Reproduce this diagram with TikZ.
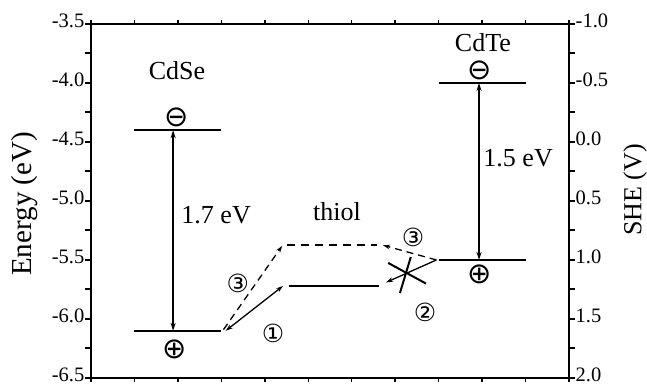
\documentclass[tikz,border=0pt]{standalone}
\usepackage{fontspec}
\setmainfont{Liberation Serif}
\newfontfamily\simboli{DejaVu Sans}
\usetikzlibrary{arrows.meta}

\begin{document}
\begin{tikzpicture}[x=43.45pt, y=118pt, line join=miter,
    testo/.style={font=\fontsize{26}{26}\selectfont, inner sep=0pt},
    etich/.style={font=\fontsize{20.5}{20.5}\selectfont, inner sep=0pt},
    carica/.style={font=\simboli\fontsize{29}{29}\selectfont, inner sep=0pt},
    numero/.style={font=\simboli\fontsize{25}{25}\selectfont, inner sep=0pt},
    livello/.style={line width=2pt},
    gap/.style={line width=2pt, {Stealth[length=8pt,width=5pt]}-{Stealth[length=8pt,width=5pt]}},
    salto/.style={line width=1.3pt, -{Stealth[length=7pt,width=4.5pt]}},
    trattino/.style={dash pattern=on 8pt off 6pt}]
        \useasboundingbox (-2.094,-3.297) rectangle (12.796,-6.559);
        % Cornice
        \draw[line width=2pt] (0,-3.5) rectangle (11,-6.5);
        % Tacche sopra e sotto
        \foreach \i in {0,...,11} {
            \draw[line width=1.5pt] (\i,-3.5) -- ++(0pt,4pt);
            \draw[line width=1.5pt] (\i,-6.5) -- ++(0pt,-4pt);
        }
        % Tacche a sinistra e a destra
        \foreach \e in {-3.5,-3.75,...,-6.5} {
            \draw[line width=2pt] (0,\e) -- ++(-6pt,0pt);
            \draw[line width=2pt] (11,\e) -- ++(6pt,0pt);
        }
        % Scala in energia
        \foreach \e [count=\k] in {-3.5,-4.0,-4.5,-5.0,-5.5,-6.0,-6.5}
            \node[etich, anchor=east] (en\k) at (-0.15,\e+0.03) {\e};
        % Scala SHE
        \foreach \e/\v [count=\k] in {-3.5/-1.0,-4.0/-0.5,-4.5/0.0,-5.0/0.5,-5.5/1.0,-6.0/1.5,-6.5/2.0}
            \node[etich, anchor=west] (she\k) at (11.15,\e+0.03) {\v};
        \node[font=\fontsize{29}{29}\selectfont, inner sep=0pt, rotate=90] (asseE) at (-1.52,-5.025) {Energy (eV)};
        \node[font=\fontsize{26}{26}\selectfont, inner sep=0pt, rotate=90] (asseV) at (12.52,-4.907) {SHE (V)};

        % Livelli CdSe
        \coordinate (seC1) at (1,-4.4);  \coordinate (seC2) at (3,-4.4);
        \coordinate (seV1) at (1,-6.1);  \coordinate (seV2) at (3,-6.1);
        \draw[livello] (seC1) -- (seC2);
        \draw[livello] (seV1) -- (seV2);
        \coordinate (seA) at (1.89,-4.4); \coordinate (seB) at (1.89,-6.1);
        \draw[gap] (seA) -- (seB);
        \node[testo] (cdse) at (1.98,-3.898) {CdSe};
        \node[testo] (gap1) at (2.88,-5.119) {1.7 eV};
        \node[carica] (seMeno) at (1.96,-4.29) {⊖};
        \node[carica] (sePiu) at (1.93,-6.26) {⊕};

        % Livelli CdTe
        \coordinate (teC1) at (8,-4.0);  \coordinate (teC2) at (10,-4.0);
        \coordinate (teV1) at (8,-5.5);  \coordinate (teV2) at (10,-5.5);
        \draw[livello] (teC1) -- (teC2);
        \draw[livello] (teV1) -- (teV2);
        \coordinate (teA) at (8.93,-4.0); \coordinate (teB) at (8.93,-5.5);
        \draw[gap] (teA) -- (teB);
        \node[testo] (cdte) at (9.02,-3.66) {CdTe};
        \node[testo] (gap2) at (9.83,-4.636) {1.5 eV};
        \node[carica] (teMeno) at (8.95,-3.89) {⊖};
        \node[carica] (tePiu) at (8.95,-5.62) {⊕};

        % Livelli tiolo
        \coordinate (tiS1) at (4.56,-5.72); \coordinate (tiS2) at (6.63,-5.72);
        \coordinate (tiT1) at (4.51,-5.37); \coordinate (tiT2) at (6.58,-5.37);
        \draw[livello] (tiS1) -- (tiS2);
        \draw[livello, trattino] (tiT1) -- (tiT2);
        \node[testo] (thiol) at (5.66,-5.093) {thiol};

        % Trasferimenti
        \coordinate (p1) at (3.1,-6.1);  \coordinate (q1) at (4.42,-5.72);
        \draw[salto, {Stealth[length=7pt,width=4.5pt]}-{Stealth[length=7pt,width=4.5pt]}] (p1) -- (q1);
        \coordinate (p3) at (3.05,-6.09); \coordinate (q3) at (4.4,-5.38);
        \draw[salto, dash pattern=on 7pt off 5pt] (p3) -- (q3);
        \coordinate (r3) at (7.95,-5.5);  \coordinate (s3) at (6.72,-5.375);
        \draw[salto, dash pattern=on 7pt off 5pt] (r3) -- (s3);
        \coordinate (s2) at (6.79,-5.69);
        \draw[salto] (r3) -- (s2);
        % Croce
        \coordinate (x1) at (6.84,-5.525); \coordinate (x2) at (7.71,-5.70);
        \coordinate (x3) at (7.36,-5.475); \coordinate (x4) at (7.11,-5.78);
        \draw[line width=2pt] (x1) -- (x2);
        \draw[line width=2pt] (x3) -- (x4);
        \node[numero] (n3a) at (3.38,-5.695) {③};
        \node[numero] (n1) at (4.19,-6.12) {①};
        \node[numero] (n2) at (7.69,-5.94) {②};
        \node[numero] (n3b) at (7.41,-5.31) {③};
    \end{tikzpicture}
\end{document}
